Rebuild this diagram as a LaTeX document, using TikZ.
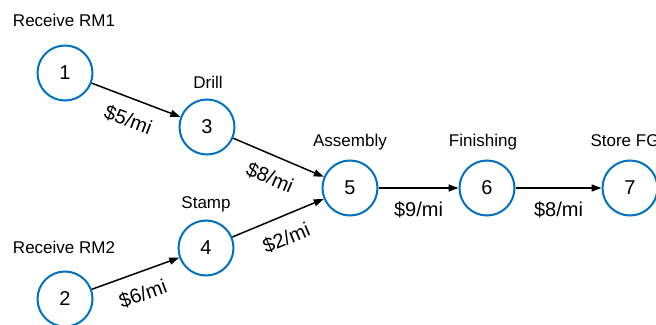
\documentclass[tikz,border=0pt]{standalone}
\usepackage{fontspec}
\setmainfont{Liberation Sans}
\usetikzlibrary{arrows.meta}
\definecolor{stationblue}{RGB}{0,112,192}
\tikzset{
  station/.style={circle, draw=stationblue, line width=2pt, minimum size=55pt, inner sep=0pt, font=\fontsize{20}{24}\selectfont},
  title/.style={anchor=base, font=\fontsize{17}{20}\selectfont},
  flow/.style={line width=1.5pt, -{Triangle[length=10pt,width=7pt]}},
  cost/.style={font=\fontsize{20}{24}\selectfont, sloped, below=11pt, inner sep=2pt},
}
\begin{document}
\begin{tikzpicture}[x=1pt,y=-1pt]
        \useasboundingbox (0,0) rectangle (656,324);
        % stations
        \node[station] (n1) at (65,73)  {1};
        \node[station] (n2) at (65,299) {2};
        \node[station] (n3) at (207,127) {3};
        \node[station] (n4) at (206,248) {4};
        \node[station] (n5) at (350,188) {5};
        \node[station] (n6) at (487,188) {6};
        \node[station] (n7) at (630,188) {7};

        % titles
        \node[title] (t1) at (64,26)   {Receive RM1};
        \node[title] (t2) at (64,253)  {Receive RM2};
        \node[title] (t3) at (208,88)  {Drill};
        \node[title] (t4) at (206,208) {Stamp};
        \node[title] (t5) at (350,146) {Assembly};
        \node[title] (t6) at (483,146) {Finishing};
        \node[title] (t7) at (625,146) {Store FG};

        % flows
        \draw[flow] (n1) -- node[cost]{\$5/mi} (n3);
        \draw[flow] (n3) -- node[cost]{\$8/mi} (n5);
        \draw[flow] (n2) -- node[cost]{\$6/mi} (n4);
        \draw[flow] (n4) -- node[cost]{\$2/mi} (n5);
        \draw[flow] (n5) -- node[cost]{\$9/mi} (n6);
        \draw[flow] (n6) -- node[cost]{\$8/mi} (n7);
    \end{tikzpicture}
\end{document}
